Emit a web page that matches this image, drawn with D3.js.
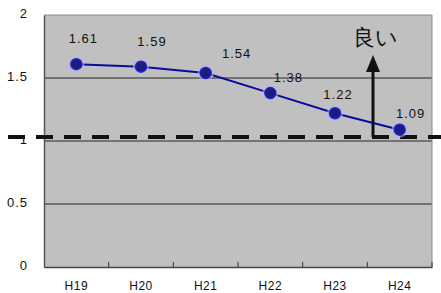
<!DOCTYPE html>
<html><head><meta charset="utf-8">
<script src="https://cdn.jsdelivr.net/npm/d3@7"></script>
<style>body{margin:0;background:#fff}svg{display:block}text{font-family:"Liberation Sans",Arial,sans-serif}</style>
</head><body>
<svg id="c" width="441" height="293"></svg>
<script>
const categories = ["H19","H20","H21","H22","H23","H24"];
const values = [1.61,1.59,1.54,1.38,1.22,1.09];
const yTicks = [0,0.5,1,1.5,2];
const yTickLabels = ["0","0.5","1","1.5","2"];
const targetValue = 1;
const arrowLabel = "良い";
// label layout offsets (dx, dy) relative to each point
const labelOffsets = [[7,-21],[11,-21],[31,-15],[18,-11],[3,-14],[11,-12]];

const svg = d3.select("#c");
const m = {l:44,r:432,t:15,b:267};
const x = d3.scaleBand().domain(categories).range([m.l,m.r]);
const y = d3.scaleLinear().domain([0,2]).range([m.b,m.t]);

svg.append("rect").attr("x",m.l).attr("y",m.t).attr("width",m.r-m.l).attr("height",m.b-m.t).attr("fill","#c0c0c0");
// grid
svg.selectAll(".g").data(yTicks.filter(d=>d>0&&d!==2)).enter().append("line")
  .attr("x1",m.l).attr("x2",m.r).attr("y1",d=>y(d)).attr("y2",d=>y(d))
  .attr("stroke","#5a5a5a").attr("stroke-width",1.3);
// border top/right
svg.append("path").attr("d",`M${m.l},${m.t}H${m.r}V${m.b}`).attr("fill","none").attr("stroke","#8a8a8a").attr("stroke-width",1);

// axes
const yAxis = d3.axisLeft(y).tickValues(yTicks).tickFormat((d,i)=>yTickLabels[i]).tickSize(0).tickPadding(16);
const gy = svg.append("g").attr("transform",`translate(${m.l},0)`).call(yAxis);
gy.select(".domain").attr("stroke","#555").attr("stroke-width",1.5);
gy.selectAll("text").attr("font-size",13).attr("fill","#111").attr("dy","0.2em").style("letter-spacing","1px");

const xAxis = d3.axisBottom(x).tickSize(0).tickPadding(16);
const gx = svg.append("g").attr("transform",`translate(0,${m.b})`).call(xAxis);
gx.select(".domain").attr("stroke","#444").attr("stroke-width",1.3);
gx.selectAll("text").attr("font-size",12).attr("fill","#111").attr("dy","0.6em").style("letter-spacing","0.5px");
// band boundary ticks
svg.selectAll(".bt").data(categories.slice(1)).enter().append("line")
  .attr("x1",d=>x(d)).attr("x2",d=>x(d)).attr("y1",m.b-5).attr("y2",m.b).attr("stroke","#333").attr("stroke-width",1);
svg.append("line").attr("x1",m.r).attr("x2",m.r).attr("y1",m.b-5).attr("y2",m.b).attr("stroke","#333");

// dashed target line
svg.append("line").attr("x1",8).attr("x2",441).attr("y1",y(targetValue)-4).attr("y2",y(targetValue)-4)
  .attr("stroke","#111").attr("stroke-width",4).attr("stroke-dasharray","17,11");

// series
const cx = d=>x(d)+x.bandwidth()/2;
const pts = categories.map((c,i)=>[cx(c),y(values[i])]);
svg.append("path").attr("d",d3.line()(pts)).attr("fill","none").attr("stroke","#0a0aa0").attr("stroke-width",2);
svg.selectAll(".glow").data(pts).enter().append("circle").attr("cx",d=>d[0]).attr("cy",d=>d[1]).attr("r",8)
  .attr("fill","#b8b8e8").attr("opacity",0.6);
svg.selectAll(".pt").data(pts).enter().append("circle").attr("cx",d=>d[0]).attr("cy",d=>d[1]).attr("r",5.5)
  .attr("fill","#1c1c7a").attr("stroke","#2222cc").attr("stroke-width",1.5);
svg.selectAll(".lb").data(values).enter().append("text")
  .attr("x",(d,i)=>pts[i][0]+labelOffsets[i][0]).attr("y",(d,i)=>pts[i][1]+labelOffsets[i][1])
  .attr("text-anchor","middle").attr("font-size",13).attr("fill","#111").style("letter-spacing","1px")
  .text(d=>d.toFixed(2));

// arrow
const ax = 373;
svg.append("line").attr("x1",ax).attr("x2",ax).attr("y1",y(targetValue)-4).attr("y2",68).attr("stroke","#111").attr("stroke-width",3);
svg.append("path").attr("d",`M${ax},55L${ax-7},72L${ax+7},72Z`).attr("fill","#111");
svg.append("text").attr("x",375).attr("y",45).attr("text-anchor","middle").attr("font-size",22)
  .attr("font-family","Noto Sans CJK JP").attr("fill","#111").text(arrowLabel);
</script>
</body></html>
